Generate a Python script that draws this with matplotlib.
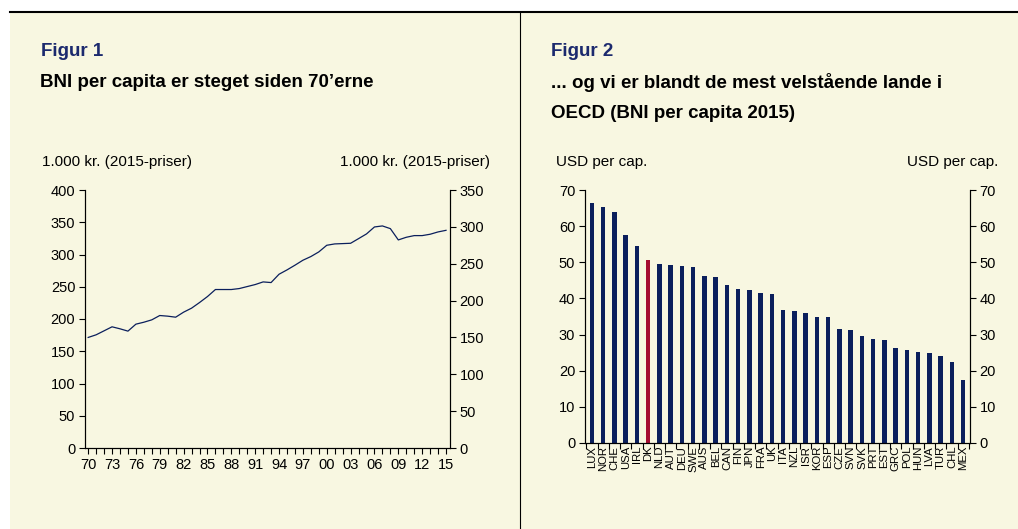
import numpy as np
import matplotlib.pyplot as plt
from matplotlib.patches import Rectangle
from matplotlib.lines import Line2D
from matplotlib.ticker import MultipleLocator, FixedLocator

plt.rcParams['font.family'] = ['Liberation Sans', 'DejaVu Sans']

# Figur 1: BNI per capita, 1.000 kr. (2015-priser)
years = list(range(1970, 2016))
bni = [171.4, 175.5, 181.7, 187.9, 184.8, 181.2, 192.0, 195.0, 198.7, 205.4,
       204.4, 202.8, 210.6, 216.8, 225.5, 234.8, 245.7, 245.7, 245.7, 247.2,
       250.3, 253.4, 257.5, 256.5, 269.4, 276.1, 283.4, 291.1, 296.8, 304.0,
       314.3, 316.4, 316.9, 317.4, 324.6, 331.9, 342.7, 344.3, 340.1, 322.6,
       326.7, 329.3, 329.3, 331.4, 335.0, 337.5]

# Figur 2: BNI per capita 2015, USD
countries = ["LUX", "NOR", "CHE", "USA", "IRL", "DK", "NLD", "AUT", "DEU", "SWE",
             "AUS", "BEL", "CAN", "FIN", "JPN", "FRA", "UK", "ITA", "NZL", "ISR",
             "KOR", "ESP", "CZE", "SVN", "SVK", "PRT", "EST", "GRC", "POL", "HUN",
             "LVA", "TUR", "CHL", "MEX"]
gni_usd = [66.5, 65.2, 64.0, 57.5, 54.6, 50.6, 49.4, 49.2, 49.1, 48.6,
           46.2, 45.9, 43.6, 42.7, 42.3, 41.6, 41.2, 36.9, 36.4, 36.0,
           34.8, 34.8, 31.5, 31.2, 29.5, 28.8, 28.4, 26.3, 25.6, 25.2,
           24.8, 24.0, 22.4, 17.4]
highlight = "DK"

BG = "#f8f7e1"
NAVY = "#0b1f5c"
RED = "#a50d32"
TITLE_BLUE = "#1c2a6e"

W, H = 1018, 529
fig = plt.figure(figsize=(W / 100, H / 100), dpi=100, facecolor="white")


def fx(x):
    return x / W


def fy(y):
    return 1 - y / H


# panel background and frame lines
fig.patches.append(Rectangle((fx(10), 0), fx(W) - fx(10), fy(12), transform=fig.transFigure,
                             facecolor=BG, edgecolor="none", zorder=-10))
fig.lines.append(Line2D([fx(10), 1], [fy(12), fy(12)], transform=fig.transFigure,
                        color="black", lw=1.5, zorder=-5))
fig.lines.append(Line2D([fx(520), fx(520)], [0, fy(12)], transform=fig.transFigure,
                        color="black", lw=0.8, zorder=-5))

# titles
fig.text(fx(41), fy(51), "Figur 1", color=TITLE_BLUE, fontsize=13.5, fontweight="bold", va="center")
fig.text(fx(40), fy(83), "BNI per capita er steget siden 70\u2019erne", fontsize=13.5,
         fontweight="bold", va="center")
fig.text(fx(551), fy(51), "Figur 2", color=TITLE_BLUE, fontsize=13.5, fontweight="bold", va="center")
fig.text(fx(551), fy(83), "... og vi er blandt de mest velst\u00e5ende lande i", fontsize=13.5,
         fontweight="bold", va="center")
fig.text(fx(551), fy(113), "OECD (BNI per capita 2015)", fontsize=13.5, fontweight="bold", va="center")

fig.text(fx(42), fy(162), "1.000 kr. (2015-priser)", fontsize=11, va="center")
fig.text(fx(490), fy(162), "1.000 kr. (2015-priser)", fontsize=11, va="center", ha="right")
fig.text(fx(556), fy(162), "USD per cap.", fontsize=11, va="center")
fig.text(fx(998), fy(162), "USD per cap.", fontsize=11, va="center", ha="right")


def style_axes(ax):
    ax.set_facecolor("none")
    ax.spines["top"].set_visible(False)
    for s in ["left", "right", "bottom"]:
        ax.spines[s].set_linewidth(0.8)
    ax.tick_params(axis="both", which="both", direction="out", length=4, width=0.8,
                   labelsize=10.5, pad=3)


# left chart
ax1 = fig.add_axes([fx(85), fy(448), fx(450) - fx(85), fy(190) - fy(448)])
style_axes(ax1)
ax1.plot(years, bni, color=NAVY, lw=0.9)
ax1.set_xlim(1969.6, 2015.5)
ax1.set_ylim(0, 400)
ax1.yaxis.set_major_locator(MultipleLocator(50))
ax1.xaxis.set_major_locator(FixedLocator(years[::3]))
ax1.set_xticklabels([f"{y % 100:02d}" for y in years[::3]])
ax1.xaxis.set_minor_locator(FixedLocator(years))
ax1.tick_params(axis="x", which="both", length=4)

ax1r = ax1.twinx()
style_axes(ax1r)
ax1r.set_ylim(0, 350)
ax1r.yaxis.set_major_locator(MultipleLocator(50))

# right chart
ax2 = fig.add_axes([fx(585), fy(443), fx(970) - fx(585), fy(190) - fy(443)])
style_axes(ax2)
xpos = np.arange(len(countries))
colors = [RED if c == highlight else NAVY for c in countries]
ax2.bar(xpos, gni_usd, width=0.4, color=colors)
ax2.set_xlim(-0.62, len(countries) - 0.4)
ax2.set_ylim(0, 70)
ax2.yaxis.set_major_locator(MultipleLocator(10))
ax2.set_xticks(xpos)
ax2.set_xticklabels(countries, rotation=90, fontsize=8.2)
ax2.tick_params(axis="x", which="major", length=0, pad=2)
ax2.set_xticks(np.arange(-0.5, len(countries), 1), minor=True)
ax2.tick_params(axis="x", which="minor", length=4)

ax2r = ax2.twinx()
style_axes(ax2r)
ax2r.set_ylim(0, 70)
ax2r.yaxis.set_major_locator(MultipleLocator(10))

fig.savefig("out.png", dpi=100, facecolor="white")
